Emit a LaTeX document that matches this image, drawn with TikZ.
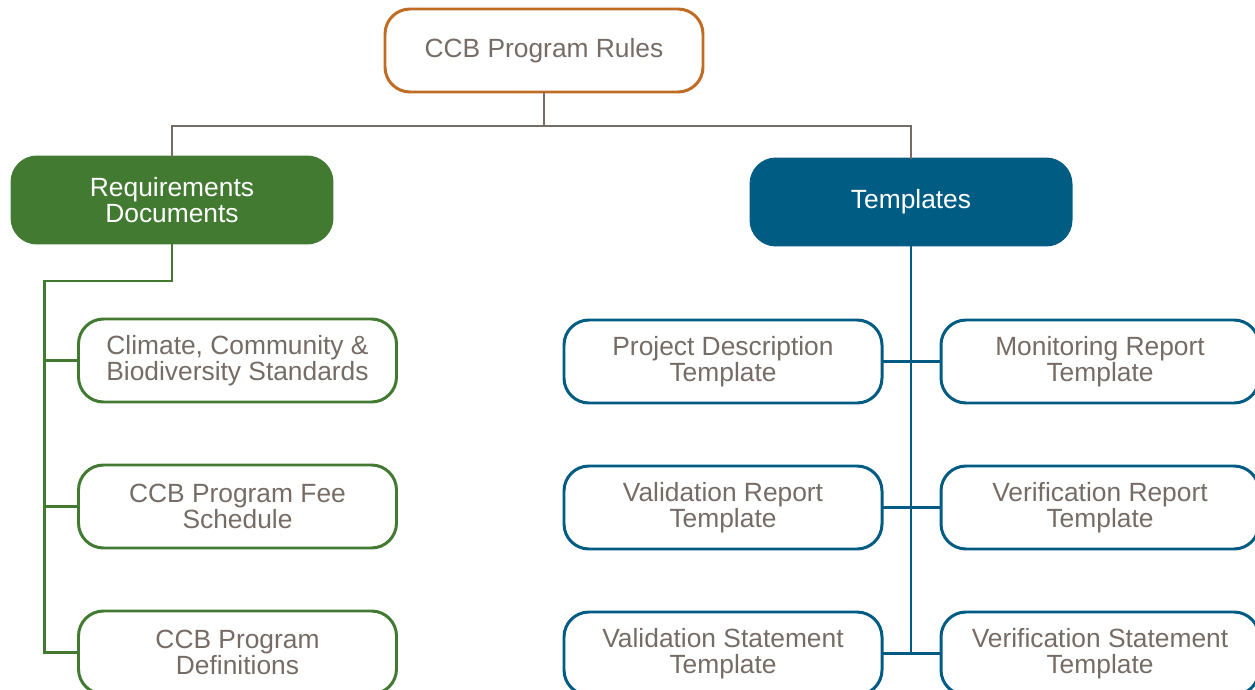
\documentclass[tikz,border=0pt]{standalone}
\usepackage{fontspec}
\setmainfont{Liberation Sans}
\usetikzlibrary{positioning, calc}
\definecolor{rulesorange}{RGB}{193,108,36}
\definecolor{reqgreen}{RGB}{67,122,49}
\definecolor{tplblue}{RGB}{0,92,131}
\definecolor{textgray}{RGB}{118,108,102}

\begin{document}
\begin{tikzpicture}[
    box/.style={rectangle, rounded corners=0.5cm, line width=1.7pt, outer sep=0pt, align=center, minimum width=6.36cm, minimum height=1.66cm, font=\fontsize{15}{14.7}\selectfont, text=textgray},
    rulesbox/.style={box, draw=rulesorange, fill=white},
    groupbox/.style={box, minimum width=6.4cm, minimum height=1.72cm, text=white},
    reqbox/.style={groupbox, draw=reqgreen, fill=reqgreen},
    tplbox/.style={groupbox, draw=tplblue, fill=tplblue},
    reqchild/.style={box, draw=reqgreen, fill=white},
    tplchild/.style={box, draw=tplblue, fill=white},
    trunk/.style={line width=1.4pt, draw=textgray},
    reqline/.style={line width=1.4pt, draw=reqgreen},
    tplline/.style={line width=1.4pt, draw=tplblue}
]
\useasboundingbox (0,0) rectangle (25.1,-13.8);

% Top node
\node[rulesbox] (rules) at (10.88,-1.01) {CCB Program Rules};

% Groups
\node[reqbox] (req) at (3.44,-4.0) {Requirements\\Documents};
\node[tplbox] (templates) at (18.22,-4.04) {Templates};

% Requirements documents
\node[reqchild, below=1.52cm of req, xshift=1.31cm] (standards) {Climate, Community \&\\Biodiversity Standards};
\node[reqchild, below=1.26cm of standards] (fees) {CCB Program Fee\\Schedule};
\node[reqchild, below=1.26cm of fees] (defs) {CCB Program\\Definitions};

% Templates
\node[tplchild, below=1.5cm of templates, xshift=-3.76cm] (pdt) {Project Description\\Template};
\node[tplchild, below=1.26cm of pdt] (valrep) {Validation Report\\Template};
\node[tplchild, below=1.26cm of valrep] (valstmt) {Validation Statement\\Template};
\node[tplchild, below=1.5cm of templates, xshift=3.78cm] (monrep) {Monitoring Report\\Template};
\node[tplchild, below=1.26cm of monrep] (verrep) {Verification Report\\Template};
\node[tplchild, below=1.26cm of verrep] (verstmt) {Verification Statement\\Template};

% Top connectors
\coordinate (split) at ($(rules.south)+(0,-0.68)$);
\draw[trunk] (rules.south) -- (split);
\draw[trunk] (req.north) |- (split) -| (templates.north);

% Requirements connectors
\draw[reqline] (req.south) -- ++(0,-0.76) -| ([xshift=-0.68cm]standards.west) |- (defs.west);
\draw[reqline] (standards.west) -- ++(-0.68,0);
\draw[reqline] (fees.west) -- ++(-0.68,0);

% Template connectors
\draw[tplline] (templates.south) -- (templates.south |- valstmt.east);
\foreach \a/\b in {pdt/monrep, valrep/verrep, valstmt/verstmt}
    \draw[tplline] (\a.east) -- (\b.west);

\end{tikzpicture}
\end{document}
